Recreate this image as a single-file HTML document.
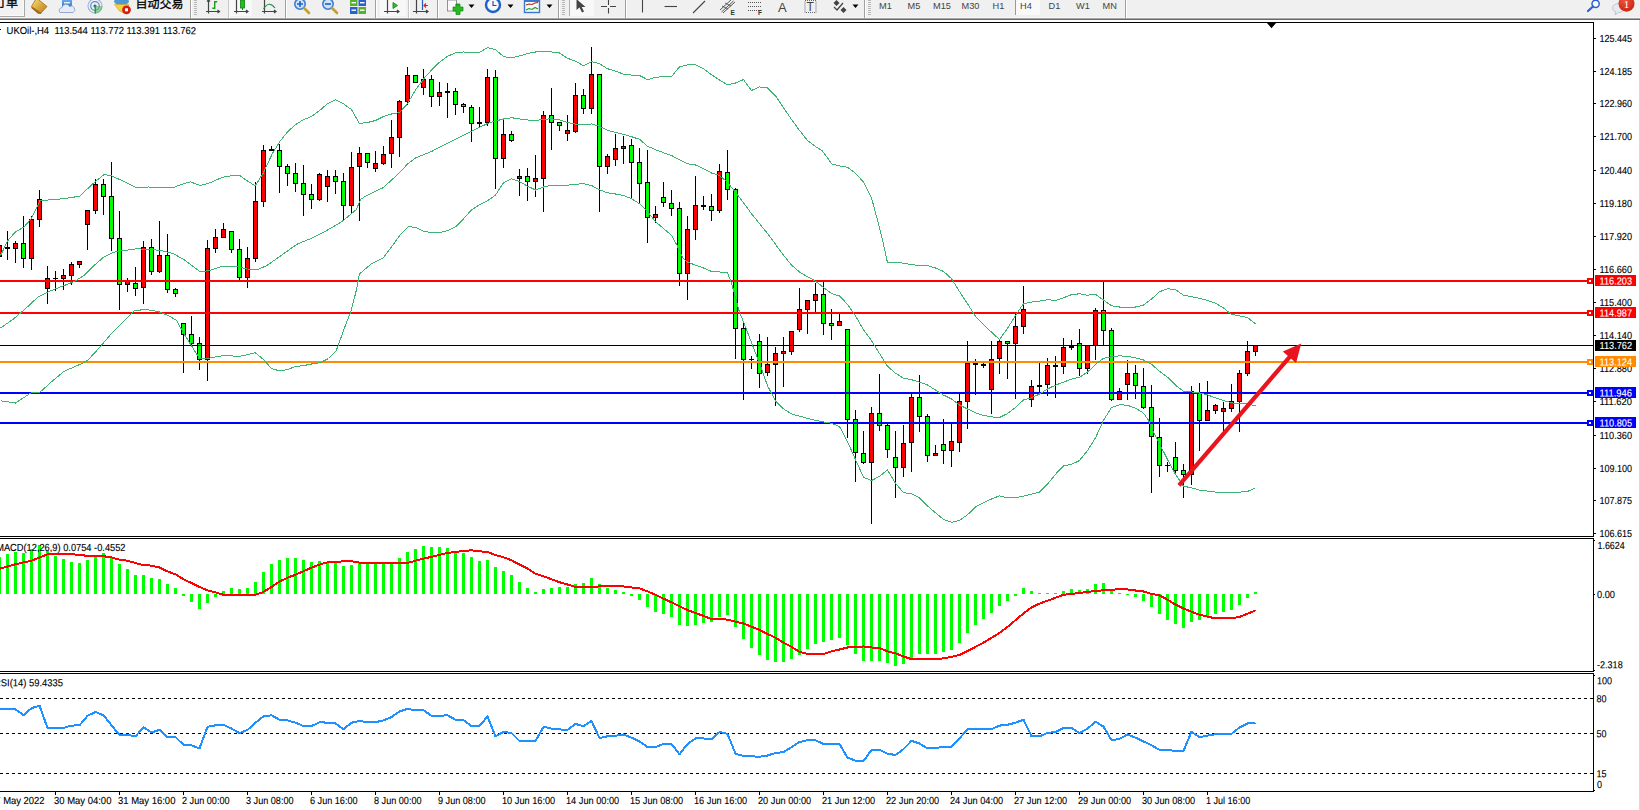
<!DOCTYPE html>
<html lang="zh">
<head>
<meta charset="utf-8">
<title>UKOil-,H4</title>
<style>
html,body{margin:0;padding:0;background:#fff;}
body{width:1640px;height:810px;position:relative;overflow:hidden;font-family:"Liberation Sans", "Noto Sans CJK SC", sans-serif;}
#tb{position:absolute;left:0;top:0;width:1640px;height:20px;background:#f0f0f0;overflow:hidden;}
#tb .edge1{position:absolute;left:0;top:17px;width:100%;height:1px;background:#f7f7f7;}
#tb .edge2{position:absolute;left:0;top:18px;width:100%;height:1px;background:#a6a6a6;}
#tb .edge3{position:absolute;left:0;top:19px;width:100%;height:1px;background:#6a6a6a;}
#tb .sep{position:absolute;top:0;width:1px;height:18px;background:#a0a0a0;box-shadow:1px 0 0 #fff;}
#tb .grip{position:absolute;top:0;width:3px;height:15px;background:repeating-linear-gradient(to bottom,#b8b8b8 0,#b8b8b8 1px,transparent 1px,transparent 2px);}
#tb .tf{position:absolute;top:0px;font-size:9.2px;line-height:13px;color:#444;white-space:nowrap;}
#tb .cjk{position:absolute;font-size:12px;line-height:12px;color:#000;white-space:nowrap;}
#rightedge{position:absolute;left:1639px;top:20px;width:1px;height:790px;background:#d9d9d9;}
</style>
</head>
<body>
<svg id="chart" width="1640" height="810" viewBox="0 0 1640 810" style="position:absolute;left:0;top:0" font-family='"Liberation Sans", "Noto Sans CJK SC", sans-serif' font-size="10.2px" stroke="none">
<g shape-rendering="crispEdges" fill="#000">
<rect x="0" y="22" width="1594" height="1"/>
<rect x="1593" y="22" width="1" height="515"/>
<rect x="0" y="536" width="1594" height="1"/>
<rect x="0" y="538" width="1594" height="1"/>
<rect x="1593" y="538" width="1" height="134"/>
<rect x="0" y="671" width="1594" height="1"/>
<rect x="0" y="673" width="1594" height="1"/>
<rect x="1593" y="673" width="1" height="119"/>
<rect x="0" y="791" width="1594" height="1"/>
<rect x="1594" y="38" width="2" height="1"/>
<rect x="1594" y="71" width="2" height="1"/>
<rect x="1594" y="103" width="2" height="1"/>
<rect x="1594" y="136" width="2" height="1"/>
<rect x="1594" y="170" width="2" height="1"/>
<rect x="1594" y="203" width="2" height="1"/>
<rect x="1594" y="236" width="2" height="1"/>
<rect x="1594" y="269" width="2" height="1"/>
<rect x="1594" y="302" width="2" height="1"/>
<rect x="1594" y="335" width="2" height="1"/>
<rect x="1594" y="368" width="2" height="1"/>
<rect x="1594" y="401" width="2" height="1"/>
<rect x="1594" y="435" width="2" height="1"/>
<rect x="1594" y="468" width="2" height="1"/>
<rect x="1594" y="500" width="2" height="1"/>
<rect x="1594" y="533" width="2" height="1"/>
<rect x="1594" y="540" width="1" height="1"/>
<rect x="1594" y="594" width="1" height="1"/>
<rect x="1594" y="670" width="1" height="1"/>
<rect x="1594" y="675" width="1" height="1"/>
<rect x="1594" y="790" width="1" height="1"/>
<rect x="55" y="792" width="1" height="3"/>
<rect x="119" y="792" width="1" height="3"/>
<rect x="183" y="792" width="1" height="3"/>
<rect x="247" y="792" width="1" height="3"/>
<rect x="311" y="792" width="1" height="3"/>
<rect x="375" y="792" width="1" height="3"/>
<rect x="439" y="792" width="1" height="3"/>
<rect x="503" y="792" width="1" height="3"/>
<rect x="567" y="792" width="1" height="3"/>
<rect x="631" y="792" width="1" height="3"/>
<rect x="695" y="792" width="1" height="3"/>
<rect x="759" y="792" width="1" height="3"/>
<rect x="823" y="792" width="1" height="3"/>
<rect x="887" y="792" width="1" height="3"/>
<rect x="951" y="792" width="1" height="3"/>
<rect x="1015" y="792" width="1" height="3"/>
<rect x="1079" y="792" width="1" height="3"/>
<rect x="1143" y="792" width="1" height="3"/>
<rect x="1207" y="792" width="1" height="3"/>
</g>
<rect x="0" y="29" width="1" height="1" fill="#000" shape-rendering="crispEdges"/>
<path d="M1266.5 22.5 L1276.5 22.5 L1271.5 28.3 Z" fill="#000"/>
<defs><clipPath id="cm"><rect x="0" y="23" width="1593" height="513"/></clipPath><clipPath id="c2"><rect x="0" y="539" width="1593" height="132"/></clipPath><clipPath id="c3"><rect x="0" y="674" width="1593" height="117"/></clipPath></defs>
<g clip-path="url(#cm)" shape-rendering="crispEdges">
<rect x="-1" y="240" width="1" height="22" fill="#000"/>
<rect x="-3" y="245" width="5" height="12" fill="#000"/>
<rect x="-2" y="246" width="3" height="10" fill="#ff0000"/>
<rect x="7" y="231" width="1" height="29" fill="#000"/>
<rect x="5" y="247" width="5" height="2" fill="#000"/>
<rect x="15" y="241" width="1" height="22" fill="#000"/>
<rect x="13" y="243" width="5" height="6" fill="#000"/>
<rect x="14" y="244" width="3" height="4" fill="#ff0000"/>
<rect x="23" y="216" width="1" height="52" fill="#000"/>
<rect x="21" y="243" width="5" height="16" fill="#000"/>
<rect x="22" y="244" width="3" height="14" fill="#00ff00"/>
<rect x="31" y="216" width="1" height="54" fill="#000"/>
<rect x="29" y="219" width="5" height="40" fill="#000"/>
<rect x="30" y="220" width="3" height="38" fill="#ff0000"/>
<rect x="39" y="190" width="1" height="37" fill="#000"/>
<rect x="37" y="199" width="5" height="21" fill="#000"/>
<rect x="38" y="200" width="3" height="19" fill="#ff0000"/>
<rect x="47" y="266" width="1" height="38" fill="#000"/>
<rect x="45" y="278" width="5" height="11" fill="#000"/>
<rect x="46" y="279" width="3" height="9" fill="#ff0000"/>
<rect x="55" y="271" width="1" height="20" fill="#000"/>
<rect x="53" y="278" width="5" height="1" fill="#000"/>
<rect x="63" y="269" width="1" height="21" fill="#000"/>
<rect x="61" y="275" width="5" height="4" fill="#000"/>
<rect x="62" y="276" width="3" height="2" fill="#ff0000"/>
<rect x="71" y="262" width="1" height="23" fill="#000"/>
<rect x="69" y="264" width="5" height="12" fill="#000"/>
<rect x="70" y="265" width="3" height="10" fill="#ff0000"/>
<rect x="79" y="261" width="1" height="7" fill="#000"/>
<rect x="77" y="261" width="5" height="4" fill="#000"/>
<rect x="78" y="262" width="3" height="2" fill="#ff0000"/>
<rect x="87" y="210" width="1" height="40" fill="#000"/>
<rect x="85" y="210" width="5" height="15" fill="#000"/>
<rect x="86" y="211" width="3" height="13" fill="#ff0000"/>
<rect x="95" y="179" width="1" height="35" fill="#000"/>
<rect x="93" y="184" width="5" height="27" fill="#000"/>
<rect x="94" y="185" width="3" height="25" fill="#ff0000"/>
<rect x="103" y="179" width="1" height="36" fill="#000"/>
<rect x="101" y="184" width="5" height="13" fill="#000"/>
<rect x="102" y="185" width="3" height="11" fill="#00ff00"/>
<rect x="111" y="162" width="1" height="89" fill="#000"/>
<rect x="109" y="196" width="5" height="43" fill="#000"/>
<rect x="110" y="197" width="3" height="41" fill="#00ff00"/>
<rect x="119" y="211" width="1" height="99" fill="#000"/>
<rect x="117" y="238" width="5" height="47" fill="#000"/>
<rect x="118" y="239" width="3" height="45" fill="#00ff00"/>
<rect x="127" y="278" width="1" height="14" fill="#000"/>
<rect x="125" y="281" width="5" height="4" fill="#000"/>
<rect x="126" y="282" width="3" height="2" fill="#ff0000"/>
<rect x="135" y="267" width="1" height="29" fill="#000"/>
<rect x="133" y="283" width="5" height="6" fill="#000"/>
<rect x="134" y="284" width="3" height="4" fill="#00ff00"/>
<rect x="143" y="241" width="1" height="63" fill="#000"/>
<rect x="141" y="247" width="5" height="41" fill="#000"/>
<rect x="142" y="248" width="3" height="39" fill="#ff0000"/>
<rect x="151" y="239" width="1" height="36" fill="#000"/>
<rect x="149" y="247" width="5" height="25" fill="#000"/>
<rect x="150" y="248" width="3" height="23" fill="#00ff00"/>
<rect x="159" y="221" width="1" height="52" fill="#000"/>
<rect x="157" y="255" width="5" height="17" fill="#000"/>
<rect x="158" y="256" width="3" height="15" fill="#ff0000"/>
<rect x="167" y="234" width="1" height="59" fill="#000"/>
<rect x="165" y="255" width="5" height="35" fill="#000"/>
<rect x="166" y="256" width="3" height="33" fill="#00ff00"/>
<rect x="175" y="288" width="1" height="9" fill="#000"/>
<rect x="173" y="289" width="5" height="5" fill="#000"/>
<rect x="174" y="290" width="3" height="3" fill="#00ff00"/>
<rect x="183" y="323" width="1" height="50" fill="#000"/>
<rect x="181" y="323" width="5" height="12" fill="#000"/>
<rect x="182" y="324" width="3" height="10" fill="#00ff00"/>
<rect x="191" y="316" width="1" height="31" fill="#000"/>
<rect x="189" y="334" width="5" height="10" fill="#000"/>
<rect x="190" y="335" width="3" height="8" fill="#00ff00"/>
<rect x="199" y="337" width="1" height="33" fill="#000"/>
<rect x="197" y="343" width="5" height="17" fill="#000"/>
<rect x="198" y="344" width="3" height="15" fill="#00ff00"/>
<rect x="207" y="240" width="1" height="141" fill="#000"/>
<rect x="205" y="248" width="5" height="112" fill="#000"/>
<rect x="206" y="249" width="3" height="110" fill="#ff0000"/>
<rect x="215" y="229" width="1" height="24" fill="#000"/>
<rect x="213" y="237" width="5" height="12" fill="#000"/>
<rect x="214" y="238" width="3" height="10" fill="#ff0000"/>
<rect x="223" y="223" width="1" height="15" fill="#000"/>
<rect x="221" y="229" width="5" height="9" fill="#000"/>
<rect x="222" y="230" width="3" height="7" fill="#ff0000"/>
<rect x="231" y="231" width="1" height="22" fill="#000"/>
<rect x="229" y="231" width="5" height="19" fill="#000"/>
<rect x="230" y="232" width="3" height="17" fill="#00ff00"/>
<rect x="239" y="239" width="1" height="42" fill="#000"/>
<rect x="237" y="249" width="5" height="29" fill="#000"/>
<rect x="238" y="250" width="3" height="27" fill="#00ff00"/>
<rect x="247" y="247" width="1" height="41" fill="#000"/>
<rect x="245" y="258" width="5" height="20" fill="#000"/>
<rect x="246" y="259" width="3" height="18" fill="#ff0000"/>
<rect x="255" y="182" width="1" height="80" fill="#000"/>
<rect x="253" y="201" width="5" height="58" fill="#000"/>
<rect x="254" y="202" width="3" height="56" fill="#ff0000"/>
<rect x="263" y="145" width="1" height="62" fill="#000"/>
<rect x="261" y="150" width="5" height="52" fill="#000"/>
<rect x="262" y="151" width="3" height="50" fill="#ff0000"/>
<rect x="271" y="146" width="1" height="5" fill="#000"/>
<rect x="269" y="149" width="5" height="2" fill="#000"/>
<rect x="279" y="144" width="1" height="49" fill="#000"/>
<rect x="277" y="150" width="5" height="17" fill="#000"/>
<rect x="278" y="151" width="3" height="15" fill="#00ff00"/>
<rect x="287" y="164" width="1" height="22" fill="#000"/>
<rect x="285" y="166" width="5" height="8" fill="#000"/>
<rect x="286" y="167" width="3" height="6" fill="#00ff00"/>
<rect x="295" y="163" width="1" height="29" fill="#000"/>
<rect x="293" y="173" width="5" height="11" fill="#000"/>
<rect x="294" y="174" width="3" height="9" fill="#00ff00"/>
<rect x="303" y="165" width="1" height="51" fill="#000"/>
<rect x="301" y="183" width="5" height="12" fill="#000"/>
<rect x="302" y="184" width="3" height="10" fill="#00ff00"/>
<rect x="311" y="184" width="1" height="25" fill="#000"/>
<rect x="309" y="194" width="5" height="6" fill="#000"/>
<rect x="310" y="195" width="3" height="4" fill="#00ff00"/>
<rect x="319" y="173" width="1" height="28" fill="#000"/>
<rect x="317" y="174" width="5" height="26" fill="#000"/>
<rect x="318" y="175" width="3" height="24" fill="#ff0000"/>
<rect x="327" y="170" width="1" height="32" fill="#000"/>
<rect x="325" y="176" width="5" height="11" fill="#000"/>
<rect x="326" y="177" width="3" height="9" fill="#ff0000"/>
<rect x="335" y="170" width="1" height="24" fill="#000"/>
<rect x="333" y="176" width="5" height="6" fill="#000"/>
<rect x="334" y="177" width="3" height="4" fill="#00ff00"/>
<rect x="343" y="173" width="1" height="47" fill="#000"/>
<rect x="341" y="181" width="5" height="25" fill="#000"/>
<rect x="342" y="182" width="3" height="23" fill="#00ff00"/>
<rect x="351" y="152" width="1" height="61" fill="#000"/>
<rect x="349" y="167" width="5" height="39" fill="#000"/>
<rect x="350" y="168" width="3" height="37" fill="#ff0000"/>
<rect x="359" y="147" width="1" height="74" fill="#000"/>
<rect x="357" y="153" width="5" height="14" fill="#000"/>
<rect x="358" y="154" width="3" height="12" fill="#ff0000"/>
<rect x="367" y="153" width="1" height="15" fill="#000"/>
<rect x="365" y="153" width="5" height="10" fill="#000"/>
<rect x="366" y="154" width="3" height="8" fill="#00ff00"/>
<rect x="375" y="151" width="1" height="21" fill="#000"/>
<rect x="373" y="163" width="5" height="6" fill="#000"/>
<rect x="374" y="164" width="3" height="4" fill="#ff0000"/>
<rect x="383" y="146" width="1" height="19" fill="#000"/>
<rect x="381" y="154" width="5" height="10" fill="#000"/>
<rect x="382" y="155" width="3" height="8" fill="#ff0000"/>
<rect x="391" y="120" width="1" height="48" fill="#000"/>
<rect x="389" y="137" width="5" height="17" fill="#000"/>
<rect x="390" y="138" width="3" height="15" fill="#ff0000"/>
<rect x="399" y="100" width="1" height="57" fill="#000"/>
<rect x="397" y="101" width="5" height="37" fill="#000"/>
<rect x="398" y="102" width="3" height="35" fill="#ff0000"/>
<rect x="407" y="67" width="1" height="38" fill="#000"/>
<rect x="405" y="75" width="5" height="27" fill="#000"/>
<rect x="406" y="76" width="3" height="25" fill="#ff0000"/>
<rect x="415" y="75" width="1" height="8" fill="#000"/>
<rect x="413" y="75" width="5" height="8" fill="#000"/>
<rect x="414" y="76" width="3" height="6" fill="#00ff00"/>
<rect x="423" y="69" width="1" height="26" fill="#000"/>
<rect x="421" y="79" width="5" height="9" fill="#000"/>
<rect x="422" y="80" width="3" height="7" fill="#ff0000"/>
<rect x="431" y="75" width="1" height="32" fill="#000"/>
<rect x="429" y="79" width="5" height="18" fill="#000"/>
<rect x="430" y="80" width="3" height="16" fill="#00ff00"/>
<rect x="439" y="82" width="1" height="24" fill="#000"/>
<rect x="437" y="92" width="5" height="5" fill="#000"/>
<rect x="438" y="93" width="3" height="3" fill="#ff0000"/>
<rect x="447" y="83" width="1" height="35" fill="#000"/>
<rect x="445" y="91" width="5" height="2" fill="#000"/>
<rect x="455" y="88" width="1" height="27" fill="#000"/>
<rect x="453" y="91" width="5" height="14" fill="#000"/>
<rect x="454" y="92" width="3" height="12" fill="#00ff00"/>
<rect x="463" y="103" width="1" height="10" fill="#000"/>
<rect x="461" y="104" width="5" height="3" fill="#000"/>
<rect x="462" y="105" width="3" height="1" fill="#00ff00"/>
<rect x="471" y="105" width="1" height="37" fill="#000"/>
<rect x="469" y="107" width="5" height="17" fill="#000"/>
<rect x="470" y="108" width="3" height="15" fill="#00ff00"/>
<rect x="479" y="107" width="1" height="21" fill="#000"/>
<rect x="477" y="122" width="5" height="2" fill="#000"/>
<rect x="487" y="69" width="1" height="57" fill="#000"/>
<rect x="485" y="77" width="5" height="46" fill="#000"/>
<rect x="486" y="78" width="3" height="44" fill="#ff0000"/>
<rect x="495" y="70" width="1" height="119" fill="#000"/>
<rect x="493" y="77" width="5" height="82" fill="#000"/>
<rect x="494" y="78" width="3" height="80" fill="#00ff00"/>
<rect x="503" y="120" width="1" height="48" fill="#000"/>
<rect x="501" y="134" width="5" height="25" fill="#000"/>
<rect x="502" y="135" width="3" height="23" fill="#ff0000"/>
<rect x="511" y="131" width="1" height="11" fill="#000"/>
<rect x="509" y="134" width="5" height="7" fill="#000"/>
<rect x="510" y="135" width="3" height="5" fill="#00ff00"/>
<rect x="519" y="169" width="1" height="27" fill="#000"/>
<rect x="517" y="176" width="5" height="3" fill="#000"/>
<rect x="518" y="177" width="3" height="1" fill="#ff0000"/>
<rect x="527" y="168" width="1" height="33" fill="#000"/>
<rect x="525" y="176" width="5" height="6" fill="#000"/>
<rect x="526" y="177" width="3" height="4" fill="#00ff00"/>
<rect x="535" y="155" width="1" height="42" fill="#000"/>
<rect x="533" y="178" width="5" height="4" fill="#000"/>
<rect x="534" y="179" width="3" height="2" fill="#ff0000"/>
<rect x="543" y="111" width="1" height="101" fill="#000"/>
<rect x="541" y="115" width="5" height="64" fill="#000"/>
<rect x="542" y="116" width="3" height="62" fill="#ff0000"/>
<rect x="551" y="88" width="1" height="62" fill="#000"/>
<rect x="549" y="115" width="5" height="8" fill="#000"/>
<rect x="550" y="116" width="3" height="6" fill="#00ff00"/>
<rect x="559" y="122" width="1" height="9" fill="#000"/>
<rect x="557" y="122" width="5" height="4" fill="#000"/>
<rect x="558" y="123" width="3" height="2" fill="#00ff00"/>
<rect x="567" y="115" width="1" height="26" fill="#000"/>
<rect x="565" y="130" width="5" height="4" fill="#000"/>
<rect x="566" y="131" width="3" height="2" fill="#ff0000"/>
<rect x="575" y="83" width="1" height="50" fill="#000"/>
<rect x="573" y="95" width="5" height="37" fill="#000"/>
<rect x="574" y="96" width="3" height="35" fill="#ff0000"/>
<rect x="583" y="89" width="1" height="25" fill="#000"/>
<rect x="581" y="95" width="5" height="14" fill="#000"/>
<rect x="582" y="96" width="3" height="12" fill="#00ff00"/>
<rect x="591" y="47" width="1" height="67" fill="#000"/>
<rect x="589" y="74" width="5" height="35" fill="#000"/>
<rect x="590" y="75" width="3" height="33" fill="#ff0000"/>
<rect x="599" y="74" width="1" height="138" fill="#000"/>
<rect x="597" y="74" width="5" height="93" fill="#000"/>
<rect x="598" y="75" width="3" height="91" fill="#00ff00"/>
<rect x="607" y="154" width="1" height="20" fill="#000"/>
<rect x="605" y="156" width="5" height="11" fill="#000"/>
<rect x="606" y="157" width="3" height="9" fill="#ff0000"/>
<rect x="615" y="134" width="1" height="32" fill="#000"/>
<rect x="613" y="148" width="5" height="12" fill="#000"/>
<rect x="614" y="149" width="3" height="10" fill="#ff0000"/>
<rect x="623" y="136" width="1" height="28" fill="#000"/>
<rect x="621" y="146" width="5" height="3" fill="#000"/>
<rect x="622" y="147" width="3" height="1" fill="#ff0000"/>
<rect x="631" y="139" width="1" height="60" fill="#000"/>
<rect x="629" y="145" width="5" height="18" fill="#000"/>
<rect x="630" y="146" width="3" height="16" fill="#00ff00"/>
<rect x="639" y="148" width="1" height="55" fill="#000"/>
<rect x="637" y="162" width="5" height="22" fill="#000"/>
<rect x="638" y="163" width="3" height="20" fill="#00ff00"/>
<rect x="647" y="150" width="1" height="93" fill="#000"/>
<rect x="645" y="182" width="5" height="36" fill="#000"/>
<rect x="646" y="183" width="3" height="34" fill="#00ff00"/>
<rect x="655" y="206" width="1" height="17" fill="#000"/>
<rect x="653" y="214" width="5" height="4" fill="#000"/>
<rect x="654" y="215" width="3" height="2" fill="#ff0000"/>
<rect x="663" y="182" width="1" height="25" fill="#000"/>
<rect x="661" y="197" width="5" height="6" fill="#000"/>
<rect x="662" y="198" width="3" height="4" fill="#00ff00"/>
<rect x="671" y="190" width="1" height="26" fill="#000"/>
<rect x="669" y="203" width="5" height="6" fill="#000"/>
<rect x="670" y="204" width="3" height="4" fill="#00ff00"/>
<rect x="679" y="202" width="1" height="84" fill="#000"/>
<rect x="677" y="208" width="5" height="66" fill="#000"/>
<rect x="678" y="209" width="3" height="64" fill="#00ff00"/>
<rect x="687" y="216" width="1" height="84" fill="#000"/>
<rect x="685" y="229" width="5" height="45" fill="#000"/>
<rect x="686" y="230" width="3" height="43" fill="#ff0000"/>
<rect x="695" y="176" width="1" height="64" fill="#000"/>
<rect x="693" y="205" width="5" height="25" fill="#000"/>
<rect x="694" y="206" width="3" height="23" fill="#ff0000"/>
<rect x="703" y="196" width="1" height="14" fill="#000"/>
<rect x="701" y="205" width="5" height="2" fill="#000"/>
<rect x="711" y="194" width="1" height="27" fill="#000"/>
<rect x="709" y="206" width="5" height="5" fill="#000"/>
<rect x="710" y="207" width="3" height="3" fill="#00ff00"/>
<rect x="719" y="164" width="1" height="49" fill="#000"/>
<rect x="717" y="171" width="5" height="40" fill="#000"/>
<rect x="718" y="172" width="3" height="38" fill="#ff0000"/>
<rect x="727" y="150" width="1" height="50" fill="#000"/>
<rect x="725" y="172" width="5" height="18" fill="#000"/>
<rect x="726" y="173" width="3" height="16" fill="#00ff00"/>
<rect x="735" y="188" width="1" height="171" fill="#000"/>
<rect x="733" y="189" width="5" height="140" fill="#000"/>
<rect x="734" y="190" width="3" height="138" fill="#00ff00"/>
<rect x="743" y="322" width="1" height="78" fill="#000"/>
<rect x="741" y="328" width="5" height="32" fill="#000"/>
<rect x="742" y="329" width="3" height="30" fill="#00ff00"/>
<rect x="751" y="356" width="1" height="13" fill="#000"/>
<rect x="749" y="359" width="5" height="1" fill="#000"/>
<rect x="759" y="334" width="1" height="54" fill="#000"/>
<rect x="757" y="341" width="5" height="33" fill="#000"/>
<rect x="758" y="342" width="3" height="31" fill="#00ff00"/>
<rect x="767" y="337" width="1" height="39" fill="#000"/>
<rect x="765" y="364" width="5" height="9" fill="#000"/>
<rect x="766" y="365" width="3" height="7" fill="#ff0000"/>
<rect x="775" y="347" width="1" height="59" fill="#000"/>
<rect x="773" y="353" width="5" height="12" fill="#000"/>
<rect x="774" y="354" width="3" height="10" fill="#ff0000"/>
<rect x="783" y="337" width="1" height="50" fill="#000"/>
<rect x="781" y="351" width="5" height="3" fill="#000"/>
<rect x="782" y="352" width="3" height="1" fill="#ff0000"/>
<rect x="791" y="331" width="1" height="24" fill="#000"/>
<rect x="789" y="331" width="5" height="21" fill="#000"/>
<rect x="790" y="332" width="3" height="19" fill="#ff0000"/>
<rect x="799" y="288" width="1" height="44" fill="#000"/>
<rect x="797" y="309" width="5" height="21" fill="#000"/>
<rect x="798" y="310" width="3" height="19" fill="#ff0000"/>
<rect x="807" y="300" width="1" height="34" fill="#000"/>
<rect x="805" y="300" width="5" height="10" fill="#000"/>
<rect x="806" y="301" width="3" height="8" fill="#ff0000"/>
<rect x="815" y="283" width="1" height="29" fill="#000"/>
<rect x="813" y="294" width="5" height="7" fill="#000"/>
<rect x="814" y="295" width="3" height="5" fill="#ff0000"/>
<rect x="823" y="282" width="1" height="53" fill="#000"/>
<rect x="821" y="294" width="5" height="30" fill="#000"/>
<rect x="822" y="295" width="3" height="28" fill="#00ff00"/>
<rect x="831" y="309" width="1" height="31" fill="#000"/>
<rect x="829" y="323" width="5" height="3" fill="#000"/>
<rect x="830" y="324" width="3" height="1" fill="#00ff00"/>
<rect x="839" y="314" width="1" height="12" fill="#000"/>
<rect x="837" y="321" width="5" height="5" fill="#000"/>
<rect x="838" y="322" width="3" height="3" fill="#ff0000"/>
<rect x="847" y="329" width="1" height="109" fill="#000"/>
<rect x="845" y="329" width="5" height="91" fill="#000"/>
<rect x="846" y="330" width="3" height="89" fill="#00ff00"/>
<rect x="855" y="410" width="1" height="72" fill="#000"/>
<rect x="853" y="419" width="5" height="34" fill="#000"/>
<rect x="854" y="420" width="3" height="32" fill="#00ff00"/>
<rect x="863" y="431" width="1" height="33" fill="#000"/>
<rect x="861" y="453" width="5" height="10" fill="#000"/>
<rect x="862" y="454" width="3" height="8" fill="#00ff00"/>
<rect x="871" y="407" width="1" height="117" fill="#000"/>
<rect x="869" y="413" width="5" height="50" fill="#000"/>
<rect x="870" y="414" width="3" height="48" fill="#ff0000"/>
<rect x="879" y="374" width="1" height="57" fill="#000"/>
<rect x="877" y="413" width="5" height="13" fill="#000"/>
<rect x="878" y="414" width="3" height="11" fill="#00ff00"/>
<rect x="887" y="424" width="1" height="34" fill="#000"/>
<rect x="885" y="425" width="5" height="25" fill="#000"/>
<rect x="886" y="426" width="3" height="23" fill="#00ff00"/>
<rect x="895" y="431" width="1" height="67" fill="#000"/>
<rect x="893" y="457" width="5" height="11" fill="#000"/>
<rect x="894" y="458" width="3" height="9" fill="#00ff00"/>
<rect x="903" y="425" width="1" height="52" fill="#000"/>
<rect x="901" y="443" width="5" height="25" fill="#000"/>
<rect x="902" y="444" width="3" height="23" fill="#ff0000"/>
<rect x="911" y="394" width="1" height="78" fill="#000"/>
<rect x="909" y="397" width="5" height="46" fill="#000"/>
<rect x="910" y="398" width="3" height="44" fill="#ff0000"/>
<rect x="919" y="375" width="1" height="57" fill="#000"/>
<rect x="917" y="397" width="5" height="20" fill="#000"/>
<rect x="918" y="398" width="3" height="18" fill="#00ff00"/>
<rect x="927" y="414" width="1" height="48" fill="#000"/>
<rect x="925" y="416" width="5" height="40" fill="#000"/>
<rect x="926" y="417" width="3" height="38" fill="#00ff00"/>
<rect x="935" y="445" width="1" height="11" fill="#000"/>
<rect x="933" y="453" width="5" height="3" fill="#000"/>
<rect x="934" y="454" width="3" height="1" fill="#ff0000"/>
<rect x="943" y="419" width="1" height="45" fill="#000"/>
<rect x="941" y="444" width="5" height="7" fill="#000"/>
<rect x="942" y="445" width="3" height="5" fill="#00ff00"/>
<rect x="951" y="424" width="1" height="43" fill="#000"/>
<rect x="949" y="441" width="5" height="10" fill="#000"/>
<rect x="950" y="442" width="3" height="8" fill="#ff0000"/>
<rect x="959" y="394" width="1" height="58" fill="#000"/>
<rect x="957" y="401" width="5" height="42" fill="#000"/>
<rect x="958" y="402" width="3" height="40" fill="#ff0000"/>
<rect x="967" y="341" width="1" height="88" fill="#000"/>
<rect x="965" y="363" width="5" height="39" fill="#000"/>
<rect x="966" y="364" width="3" height="37" fill="#ff0000"/>
<rect x="975" y="359" width="1" height="36" fill="#000"/>
<rect x="973" y="363" width="5" height="2" fill="#000"/>
<rect x="983" y="363" width="1" height="5" fill="#000"/>
<rect x="981" y="364" width="5" height="2" fill="#000"/>
<rect x="991" y="341" width="1" height="73" fill="#000"/>
<rect x="989" y="359" width="5" height="31" fill="#000"/>
<rect x="990" y="360" width="3" height="29" fill="#ff0000"/>
<rect x="999" y="339" width="1" height="35" fill="#000"/>
<rect x="997" y="341" width="5" height="18" fill="#000"/>
<rect x="998" y="342" width="3" height="16" fill="#ff0000"/>
<rect x="1007" y="341" width="1" height="38" fill="#000"/>
<rect x="1005" y="341" width="5" height="3" fill="#000"/>
<rect x="1006" y="342" width="3" height="1" fill="#00ff00"/>
<rect x="1015" y="314" width="1" height="85" fill="#000"/>
<rect x="1013" y="326" width="5" height="18" fill="#000"/>
<rect x="1014" y="327" width="3" height="16" fill="#ff0000"/>
<rect x="1023" y="286" width="1" height="48" fill="#000"/>
<rect x="1021" y="309" width="5" height="18" fill="#000"/>
<rect x="1022" y="310" width="3" height="16" fill="#ff0000"/>
<rect x="1031" y="380" width="1" height="27" fill="#000"/>
<rect x="1029" y="386" width="5" height="14" fill="#000"/>
<rect x="1030" y="387" width="3" height="12" fill="#ff0000"/>
<rect x="1039" y="363" width="1" height="29" fill="#000"/>
<rect x="1037" y="385" width="5" height="2" fill="#000"/>
<rect x="1047" y="358" width="1" height="38" fill="#000"/>
<rect x="1045" y="365" width="5" height="20" fill="#000"/>
<rect x="1046" y="366" width="3" height="18" fill="#ff0000"/>
<rect x="1055" y="356" width="1" height="42" fill="#000"/>
<rect x="1053" y="365" width="5" height="2" fill="#000"/>
<rect x="1063" y="338" width="1" height="36" fill="#000"/>
<rect x="1061" y="347" width="5" height="20" fill="#000"/>
<rect x="1062" y="348" width="3" height="18" fill="#ff0000"/>
<rect x="1071" y="340" width="1" height="10" fill="#000"/>
<rect x="1069" y="346" width="5" height="2" fill="#000"/>
<rect x="1079" y="329" width="1" height="47" fill="#000"/>
<rect x="1077" y="343" width="5" height="26" fill="#000"/>
<rect x="1078" y="344" width="3" height="24" fill="#00ff00"/>
<rect x="1087" y="345" width="1" height="29" fill="#000"/>
<rect x="1085" y="345" width="5" height="24" fill="#000"/>
<rect x="1086" y="346" width="3" height="22" fill="#ff0000"/>
<rect x="1095" y="308" width="1" height="52" fill="#000"/>
<rect x="1093" y="310" width="5" height="36" fill="#000"/>
<rect x="1094" y="311" width="3" height="34" fill="#ff0000"/>
<rect x="1103" y="282" width="1" height="63" fill="#000"/>
<rect x="1101" y="310" width="5" height="21" fill="#000"/>
<rect x="1102" y="311" width="3" height="19" fill="#00ff00"/>
<rect x="1111" y="328" width="1" height="73" fill="#000"/>
<rect x="1109" y="330" width="5" height="70" fill="#000"/>
<rect x="1110" y="331" width="3" height="68" fill="#00ff00"/>
<rect x="1119" y="388" width="1" height="12" fill="#000"/>
<rect x="1117" y="391" width="5" height="9" fill="#000"/>
<rect x="1118" y="392" width="3" height="7" fill="#ff0000"/>
<rect x="1127" y="360" width="1" height="40" fill="#000"/>
<rect x="1125" y="373" width="5" height="12" fill="#000"/>
<rect x="1126" y="374" width="3" height="10" fill="#ff0000"/>
<rect x="1135" y="365" width="1" height="34" fill="#000"/>
<rect x="1133" y="373" width="5" height="13" fill="#000"/>
<rect x="1134" y="374" width="3" height="11" fill="#00ff00"/>
<rect x="1143" y="368" width="1" height="41" fill="#000"/>
<rect x="1141" y="386" width="5" height="22" fill="#000"/>
<rect x="1142" y="387" width="3" height="20" fill="#00ff00"/>
<rect x="1151" y="385" width="1" height="108" fill="#000"/>
<rect x="1149" y="407" width="5" height="30" fill="#000"/>
<rect x="1150" y="408" width="3" height="28" fill="#00ff00"/>
<rect x="1159" y="418" width="1" height="59" fill="#000"/>
<rect x="1157" y="437" width="5" height="29" fill="#000"/>
<rect x="1158" y="438" width="3" height="27" fill="#00ff00"/>
<rect x="1167" y="462" width="1" height="10" fill="#000"/>
<rect x="1165" y="465" width="5" height="1" fill="#000"/>
<rect x="1175" y="442" width="1" height="32" fill="#000"/>
<rect x="1173" y="457" width="5" height="14" fill="#000"/>
<rect x="1174" y="458" width="3" height="12" fill="#00ff00"/>
<rect x="1183" y="464" width="1" height="34" fill="#000"/>
<rect x="1181" y="470" width="5" height="5" fill="#000"/>
<rect x="1182" y="471" width="3" height="3" fill="#00ff00"/>
<rect x="1191" y="386" width="1" height="99" fill="#000"/>
<rect x="1189" y="391" width="5" height="84" fill="#000"/>
<rect x="1190" y="392" width="3" height="82" fill="#ff0000"/>
<rect x="1199" y="383" width="1" height="68" fill="#000"/>
<rect x="1197" y="392" width="5" height="29" fill="#000"/>
<rect x="1198" y="393" width="3" height="27" fill="#00ff00"/>
<rect x="1207" y="381" width="1" height="40" fill="#000"/>
<rect x="1205" y="410" width="5" height="11" fill="#000"/>
<rect x="1206" y="411" width="3" height="9" fill="#ff0000"/>
<rect x="1215" y="404" width="1" height="10" fill="#000"/>
<rect x="1213" y="405" width="5" height="6" fill="#000"/>
<rect x="1214" y="406" width="3" height="4" fill="#ff0000"/>
<rect x="1223" y="402" width="1" height="30" fill="#000"/>
<rect x="1221" y="408" width="5" height="4" fill="#000"/>
<rect x="1222" y="409" width="3" height="2" fill="#ff0000"/>
<rect x="1231" y="384" width="1" height="28" fill="#000"/>
<rect x="1229" y="401" width="5" height="8" fill="#000"/>
<rect x="1230" y="402" width="3" height="6" fill="#ff0000"/>
<rect x="1239" y="370" width="1" height="62" fill="#000"/>
<rect x="1237" y="373" width="5" height="29" fill="#000"/>
<rect x="1238" y="374" width="3" height="27" fill="#ff0000"/>
<rect x="1247" y="341" width="1" height="35" fill="#000"/>
<rect x="1245" y="351" width="5" height="23" fill="#000"/>
<rect x="1246" y="352" width="3" height="21" fill="#ff0000"/>
<rect x="1255" y="345" width="1" height="11" fill="#000"/>
<rect x="1253" y="345" width="5" height="7" fill="#000"/>
<rect x="1254" y="346" width="3" height="5" fill="#ff0000"/>
</g>
<g shape-rendering="crispEdges">
<rect x="0" y="345" width="1593" height="1" fill="#000"/>
<rect x="0" y="280" width="1593" height="2" fill="#ff0000"/>
<rect x="1587" y="278" width="6" height="6" fill="#ff0000"/>
<rect x="1589" y="280" width="2" height="2" fill="#fff"/>
<rect x="0" y="312" width="1593" height="2" fill="#ff0000"/>
<rect x="1587" y="310" width="6" height="6" fill="#ff0000"/>
<rect x="1589" y="312" width="2" height="2" fill="#fff"/>
<rect x="0" y="361" width="1593" height="2" fill="#ff8c00"/>
<rect x="1587" y="359" width="6" height="6" fill="#ff8c00"/>
<rect x="1589" y="361" width="2" height="2" fill="#fff"/>
<rect x="0" y="392" width="1593" height="2" fill="#0000ff"/>
<rect x="1587" y="390" width="6" height="6" fill="#0000ff"/>
<rect x="1589" y="392" width="2" height="2" fill="#fff"/>
<rect x="0" y="422" width="1593" height="2" fill="#0000ff"/>
<rect x="1587" y="420" width="6" height="6" fill="#0000ff"/>
<rect x="1589" y="422" width="2" height="2" fill="#fff"/>
</g>
<g clip-path="url(#cm)" shape-rendering="crispEdges">
<polyline points="0.5,255.5 7.9,240.5 15.3,232.0 24.0,227.0 31.4,218.4 40.0,200.6 49.9,199.9 64.7,198.6 79.5,196.2 95.5,181.4 104.2,174.5 111.5,175.9 124.0,181.4 136.3,187.5 148.5,187.0 161.0,187.5 173.3,187.5 183.2,183.8 190.5,181.9 200.5,185.5 210.4,182.6 222.7,177.2 231.4,175.7 240.0,175.7 248.4,181.7 255.3,185.7 263.4,172.8 272.1,154.1 280.0,141.2 287.9,131.4 295.8,124.5 303.7,119.5 311.6,116.5 319.5,110.6 327.4,103.7 335.5,99.8 343.4,103.7 351.5,109.6 359.4,123.5 367.5,122.5 375.5,120.5 383.5,116.5 391.5,114.0 399.5,112.6 407.5,103.7 415.5,89.9 423.5,79.0 431.5,70.1 439.5,62.2 447.5,56.3 455.5,52.9 463.5,52.0 471.5,52.7 479.5,52.4 487.5,47.7 495.5,49.7 503.5,56.5 511.5,57.9 519.5,55.9 527.5,53.6 535.5,52.0 543.5,51.8 551.5,51.9 559.5,53.0 567.5,58.3 575.5,61.2 583.5,65.8 591.5,61.6 599.5,63.8 607.5,68.7 615.5,71.1 623.5,74.1 631.5,75.1 639.5,75.5 647.5,79.6 655.5,77.4 663.5,76.6 671.5,76.6 679.5,66.8 687.5,64.8 695.5,64.8 703.5,68.7 711.5,74.7 719.5,80.0 727.5,84.9 735.5,83.0 743.5,79.6 751.5,90.5 759.5,86.9 767.5,87.9 775.5,95.8 783.5,107.7 791.5,119.5 799.5,130.4 807.5,140.5 815.5,146.5 822.0,150.5 831.9,163.9 839.5,165.9 847.5,167.3 855.5,173.2 863.5,182.1 871.5,197.9 876.3,215.7 879.5,227.5 884.2,247.3 887.5,262.7 895.5,262.7 903.5,263.1 911.5,264.7 919.5,265.5 927.5,265.7 935.5,268.0 943.5,271.4 951.5,278.7 959.5,291.5 967.5,303.8 975.5,316.3 983.5,324.8 991.5,332.1 999.5,339.6 1007.5,328.3 1015.5,315.5 1023.5,303.7 1031.5,302.1 1039.5,301.1 1047.5,299.7 1055.5,300.5 1063.5,297.8 1071.5,294.6 1079.5,293.8 1087.5,295.2 1095.5,294.2 1103.5,300.1 1111.5,305.7 1119.5,307.0 1127.5,307.0 1135.5,307.0 1143.5,305.1 1151.5,299.1 1159.5,291.8 1167.5,288.7 1175.5,289.7 1183.5,295.2 1191.5,296.8 1199.5,298.2 1207.5,300.5 1215.5,303.1 1223.5,308.0 1231.5,314.4 1239.5,315.9 1247.5,317.5 1255.5,323.8" fill="none" stroke="#3cb371" stroke-width="1"/>
<polyline points="0.5,328.0 12.8,319.5 25.2,309.0 37.5,297.4 49.9,291.2 62.2,286.3 74.5,281.4 84.5,275.2 94.3,265.3 104.2,256.7 114.1,252.2 124.0,250.5 136.3,248.8 148.6,249.3 161.0,250.5 173.3,253.7 183.2,259.1 193.1,266.5 200.5,272.0 210.4,270.3 222.7,266.1 235.1,266.1 247.4,269.0 257.3,269.8 267.2,265.3 279.5,256.7 296.8,244.3 311.6,238.2 326.4,230.7 341.2,222.1 356.1,209.8 361.0,199.0 366.9,195.5 374.8,191.6 383.5,187.5 391.5,180.0 399.5,172.8 407.5,164.0 415.5,158.0 423.5,154.7 431.5,151.5 439.5,147.2 447.5,143.2 455.5,139.3 463.5,135.3 471.5,131.4 479.5,127.4 487.5,123.5 495.5,121.0 503.5,119.0 511.5,117.7 519.5,118.9 527.5,120.0 535.5,120.5 543.5,119.3 551.5,118.8 559.5,119.8 567.5,122.5 575.5,124.1 583.5,125.0 591.5,123.9 599.5,126.4 607.5,130.4 615.5,132.4 623.5,134.3 631.5,136.7 639.5,139.3 647.5,146.2 655.5,149.7 663.5,152.7 671.5,155.5 679.5,159.7 687.5,163.7 695.5,165.0 703.5,168.6 711.5,173.0 719.5,175.5 727.5,182.4 735.5,192.3 743.5,202.8 751.5,213.7 759.5,223.6 767.5,233.5 775.5,244.3 783.5,255.2 791.5,265.1 799.5,272.0 807.5,276.7 815.5,281.1 823.5,287.5 831.5,293.5 839.5,296.0 847.5,304.3 855.5,315.9 863.5,329.8 871.5,340.6 879.5,353.5 887.5,366.3 895.5,373.2 903.5,378.2 911.5,379.7 919.5,382.1 927.5,385.0 935.5,390.0 943.5,395.1 951.5,398.9 959.5,405.0 967.5,409.0 975.5,412.7 983.5,415.4 991.5,416.9 999.5,417.5 1007.5,413.6 1015.5,407.5 1023.5,399.9 1031.5,397.9 1039.5,394.0 1047.5,389.0 1055.5,385.1 1063.5,382.1 1071.5,379.1 1079.5,377.2 1087.5,372.2 1095.5,364.3 1103.5,358.4 1111.5,356.8 1119.5,355.8 1127.5,356.4 1135.5,357.8 1143.5,360.0 1151.5,364.3 1159.5,371.2 1167.5,377.2 1175.5,385.1 1183.5,391.4 1191.5,392.0 1199.5,393.0 1207.5,394.9 1215.5,397.9 1223.5,400.5 1231.5,402.8 1239.5,403.8 1247.5,403.8 1255.5,405.8" fill="none" stroke="#3cb371" stroke-width="1"/>
<polyline points="0.5,400.7 15.3,403.1 32.1,392.2 40.0,392.2 51.9,381.4 63.7,371.5 79.5,364.6 87.4,360.6 99.3,347.8 111.1,334.0 123.0,322.1 134.8,310.3 146.7,309.7 158.5,311.6 167.4,315.2 176.3,320.1 183.5,333.0 191.5,345.8 199.5,358.6 207.5,358.6 217.8,356.3 227.7,355.3 237.5,356.7 247.5,354.7 255.3,352.7 263.5,359.6 271.5,368.5 279.5,370.9 287.5,369.5 295.5,366.5 303.5,365.6 311.5,364.0 320.5,362.6 328.5,358.5 336.3,350.5 346.2,323.3 351.1,311.0 356.1,291.2 359.5,274.0 370.9,264.1 383.2,257.9 391.5,246.8 400.5,234.5 408.4,226.5 416.3,227.5 424.2,231.5 432.1,232.5 440.0,232.5 447.9,230.5 455.8,226.5 463.7,218.6 471.6,209.8 479.5,204.8 487.4,200.9 495.5,195.0 503.5,182.7 511.5,178.7 519.5,181.7 527.5,186.1 535.5,190.0 543.5,187.0 551.5,185.3 559.5,185.2 567.5,185.2 575.5,184.3 583.5,183.7 591.5,185.5 599.5,189.8 607.5,192.8 615.5,194.0 623.5,195.5 631.5,198.7 639.5,203.8 647.5,211.7 655.5,221.6 663.5,228.5 671.5,235.4 677.0,245.3 679.5,251.2 683.0,258.2 687.5,262.1 695.5,265.1 703.5,268.0 711.5,271.4 719.5,272.0 727.5,273.0 730.5,280.5 733.1,288.8 735.5,297.5 739.0,310.5 743.5,321.9 751.5,342.6 759.5,363.3 767.5,385.7 775.5,401.0 783.5,408.9 791.5,413.9 799.5,416.2 807.5,418.3 815.5,420.3 823.5,421.9 831.5,423.3 839.5,426.5 847.5,441.7 855.5,459.5 863.5,477.3 871.5,480.6 879.5,476.3 887.5,470.0 895.5,483.2 903.5,492.7 911.5,493.7 919.5,498.0 927.5,505.9 935.5,512.8 943.5,519.4 951.5,522.3 959.5,520.4 967.5,514.8 975.5,506.9 983.5,502.6 991.5,499.0 999.5,495.8 1007.5,497.8 1015.5,497.7 1023.5,496.1 1031.5,494.1 1039.5,492.1 1047.5,484.2 1055.5,474.3 1063.5,465.8 1071.5,464.4 1079.5,460.5 1087.5,450.6 1095.5,437.8 1103.5,420.3 1111.5,407.5 1119.5,404.7 1127.5,405.3 1135.5,408.2 1143.5,413.1 1148.5,420.3 1151.5,427.9 1155.5,435.8 1159.5,443.7 1167.5,459.5 1175.5,474.3 1183.5,486.2 1191.5,487.8 1199.5,490.1 1207.5,491.1 1215.5,492.1 1223.5,492.7 1231.5,492.1 1239.5,492.1 1247.5,491.5 1255.5,487.8" fill="none" stroke="#3cb371" stroke-width="1"/>
</g>
<line x1="1179.0" y1="485.3" x2="1290.8" y2="355.7" stroke="#e8141e" stroke-width="4.2"/>
<path d="M1301.2 343.6 L1296.1 363.0 L1282.8 351.5 Z" fill="#e8141e"/>
<g clip-path="url(#c2)" shape-rendering="crispEdges" fill="#00ff00">
<rect x="-2" y="557" width="3" height="37"/>
<rect x="6" y="554" width="3" height="40"/>
<rect x="14" y="552" width="3" height="42"/>
<rect x="22" y="553" width="3" height="41"/>
<rect x="30" y="549" width="3" height="45"/>
<rect x="38" y="545" width="3" height="49"/>
<rect x="46" y="551" width="3" height="43"/>
<rect x="54" y="556" width="3" height="38"/>
<rect x="62" y="559" width="3" height="35"/>
<rect x="70" y="562" width="3" height="32"/>
<rect x="78" y="563" width="3" height="31"/>
<rect x="86" y="560" width="3" height="34"/>
<rect x="94" y="556" width="3" height="38"/>
<rect x="102" y="553" width="3" height="41"/>
<rect x="110" y="557" width="3" height="37"/>
<rect x="118" y="564" width="3" height="30"/>
<rect x="126" y="569" width="3" height="25"/>
<rect x="134" y="575" width="3" height="19"/>
<rect x="142" y="575" width="3" height="19"/>
<rect x="150" y="578" width="3" height="16"/>
<rect x="158" y="579" width="3" height="15"/>
<rect x="166" y="584" width="3" height="10"/>
<rect x="174" y="588" width="3" height="6"/>
<rect x="182" y="594" width="3" height="2"/>
<rect x="190" y="594" width="3" height="8"/>
<rect x="198" y="594" width="3" height="15"/>
<rect x="206" y="594" width="3" height="9"/>
<rect x="214" y="594" width="3" height="3"/>
<rect x="222" y="591" width="3" height="3"/>
<rect x="230" y="588" width="3" height="6"/>
<rect x="238" y="589" width="3" height="5"/>
<rect x="246" y="588" width="3" height="6"/>
<rect x="254" y="582" width="3" height="12"/>
<rect x="262" y="572" width="3" height="22"/>
<rect x="270" y="564" width="3" height="30"/>
<rect x="278" y="560" width="3" height="34"/>
<rect x="286" y="558" width="3" height="36"/>
<rect x="294" y="558" width="3" height="36"/>
<rect x="302" y="560" width="3" height="34"/>
<rect x="310" y="562" width="3" height="32"/>
<rect x="318" y="561" width="3" height="33"/>
<rect x="326" y="562" width="3" height="32"/>
<rect x="334" y="562" width="3" height="32"/>
<rect x="342" y="566" width="3" height="28"/>
<rect x="350" y="565" width="3" height="29"/>
<rect x="358" y="563" width="3" height="31"/>
<rect x="366" y="563" width="3" height="31"/>
<rect x="374" y="563" width="3" height="31"/>
<rect x="382" y="563" width="3" height="31"/>
<rect x="390" y="563" width="3" height="31"/>
<rect x="398" y="558" width="3" height="36"/>
<rect x="406" y="552" width="3" height="42"/>
<rect x="414" y="549" width="3" height="45"/>
<rect x="422" y="546" width="3" height="48"/>
<rect x="430" y="547" width="3" height="47"/>
<rect x="438" y="547" width="3" height="47"/>
<rect x="446" y="548" width="3" height="46"/>
<rect x="454" y="552" width="3" height="42"/>
<rect x="462" y="553" width="3" height="41"/>
<rect x="470" y="557" width="3" height="37"/>
<rect x="478" y="561" width="3" height="33"/>
<rect x="486" y="560" width="3" height="34"/>
<rect x="494" y="567" width="3" height="27"/>
<rect x="502" y="571" width="3" height="23"/>
<rect x="510" y="575" width="3" height="19"/>
<rect x="518" y="582" width="3" height="12"/>
<rect x="526" y="588" width="3" height="6"/>
<rect x="534" y="592" width="3" height="2"/>
<rect x="542" y="589" width="3" height="5"/>
<rect x="550" y="588" width="3" height="6"/>
<rect x="558" y="587" width="3" height="7"/>
<rect x="566" y="587" width="3" height="7"/>
<rect x="574" y="584" width="3" height="10"/>
<rect x="582" y="583" width="3" height="11"/>
<rect x="590" y="578" width="3" height="16"/>
<rect x="598" y="584" width="3" height="10"/>
<rect x="606" y="588" width="3" height="6"/>
<rect x="614" y="590" width="3" height="4"/>
<rect x="622" y="592" width="3" height="2"/>
<rect x="630" y="594" width="3" height="2"/>
<rect x="638" y="594" width="3" height="6"/>
<rect x="646" y="594" width="3" height="13"/>
<rect x="654" y="594" width="3" height="18"/>
<rect x="662" y="594" width="3" height="20"/>
<rect x="670" y="594" width="3" height="23"/>
<rect x="678" y="594" width="3" height="31"/>
<rect x="686" y="594" width="3" height="32"/>
<rect x="694" y="594" width="3" height="31"/>
<rect x="702" y="594" width="3" height="29"/>
<rect x="710" y="594" width="3" height="28"/>
<rect x="718" y="594" width="3" height="23"/>
<rect x="726" y="594" width="3" height="21"/>
<rect x="734" y="594" width="3" height="33"/>
<rect x="742" y="594" width="3" height="45"/>
<rect x="750" y="594" width="3" height="54"/>
<rect x="758" y="594" width="3" height="61"/>
<rect x="766" y="594" width="3" height="66"/>
<rect x="774" y="594" width="3" height="68"/>
<rect x="782" y="594" width="3" height="68"/>
<rect x="790" y="594" width="3" height="65"/>
<rect x="798" y="594" width="3" height="61"/>
<rect x="806" y="594" width="3" height="55"/>
<rect x="814" y="594" width="3" height="50"/>
<rect x="822" y="594" width="3" height="48"/>
<rect x="830" y="594" width="3" height="46"/>
<rect x="838" y="594" width="3" height="44"/>
<rect x="846" y="594" width="3" height="51"/>
<rect x="854" y="594" width="3" height="60"/>
<rect x="862" y="594" width="3" height="67"/>
<rect x="870" y="594" width="3" height="67"/>
<rect x="878" y="594" width="3" height="67"/>
<rect x="886" y="594" width="3" height="69"/>
<rect x="894" y="594" width="3" height="72"/>
<rect x="902" y="594" width="3" height="70"/>
<rect x="910" y="594" width="3" height="66"/>
<rect x="918" y="594" width="3" height="60"/>
<rect x="926" y="594" width="3" height="60"/>
<rect x="934" y="594" width="3" height="60"/>
<rect x="942" y="594" width="3" height="58"/>
<rect x="950" y="594" width="3" height="56"/>
<rect x="958" y="594" width="3" height="49"/>
<rect x="966" y="594" width="3" height="39"/>
<rect x="974" y="594" width="3" height="31"/>
<rect x="982" y="594" width="3" height="25"/>
<rect x="990" y="594" width="3" height="19"/>
<rect x="998" y="594" width="3" height="12"/>
<rect x="1006" y="594" width="3" height="7"/>
<rect x="1014" y="594" width="3" height="2"/>
<rect x="1022" y="588" width="3" height="6"/>
<rect x="1030" y="591" width="3" height="3"/>
<rect x="1038" y="593" width="3" height="1"/>
<rect x="1046" y="593" width="3" height="1"/>
<rect x="1054" y="593" width="3" height="1"/>
<rect x="1062" y="591" width="3" height="3"/>
<rect x="1070" y="589" width="3" height="5"/>
<rect x="1078" y="590" width="3" height="4"/>
<rect x="1086" y="589" width="3" height="5"/>
<rect x="1094" y="584" width="3" height="10"/>
<rect x="1102" y="583" width="3" height="11"/>
<rect x="1110" y="590" width="3" height="4"/>
<rect x="1118" y="593" width="3" height="1"/>
<rect x="1126" y="594" width="3" height="1"/>
<rect x="1134" y="594" width="3" height="3"/>
<rect x="1142" y="594" width="3" height="7"/>
<rect x="1150" y="594" width="3" height="13"/>
<rect x="1158" y="594" width="3" height="20"/>
<rect x="1166" y="594" width="3" height="26"/>
<rect x="1174" y="594" width="3" height="30"/>
<rect x="1182" y="594" width="3" height="34"/>
<rect x="1190" y="594" width="3" height="28"/>
<rect x="1198" y="594" width="3" height="26"/>
<rect x="1206" y="594" width="3" height="23"/>
<rect x="1214" y="594" width="3" height="20"/>
<rect x="1222" y="594" width="3" height="18"/>
<rect x="1230" y="594" width="3" height="16"/>
<rect x="1238" y="594" width="3" height="11"/>
<rect x="1246" y="594" width="3" height="4"/>
<rect x="1254" y="592" width="3" height="2"/>
</g>
<g clip-path="url(#c2)" shape-rendering="crispEdges">
<polyline points="-0.5,568.8 15.5,564.2 31.5,560.7 47.5,554.3 55.5,553.9 71.5,553.9 79.5,555.2 95.5,556.2 103.5,556.2 111.5,557.4 119.5,559.7 127.5,560.7 135.5,563.0 143.5,565.2 151.5,565.6 159.5,567.5 167.5,571.4 175.5,574.3 183.5,579.2 191.5,583.1 199.5,587.0 207.5,590.3 215.5,592.3 223.5,594.8 231.5,595.2 239.5,595.2 247.5,595.2 255.5,594.8 263.5,591.9 271.5,587.0 279.5,581.6 287.5,577.7 295.5,574.7 303.5,571.3 311.5,567.7 319.5,564.6 327.5,562.3 335.5,562.1 343.5,561.3 351.5,561.3 359.5,562.6 367.5,563.2 383.5,563.2 399.5,563.2 407.5,563.0 415.5,560.7 423.5,558.7 431.5,556.8 439.5,554.8 447.5,552.9 455.5,551.9 463.5,550.9 471.5,550.3 479.5,551.3 487.5,551.9 495.5,555.2 503.5,557.2 511.5,560.3 519.5,564.6 527.5,568.5 535.5,573.8 543.5,576.3 551.5,579.2 559.5,582.2 567.5,584.5 575.5,587.0 583.5,587.0 591.5,587.0 599.5,586.4 607.5,586.4 615.5,586.4 623.5,586.4 631.5,587.4 639.5,588.4 647.5,591.3 655.5,594.8 663.5,598.7 671.5,602.3 679.5,606.2 687.5,610.1 695.5,613.0 703.5,615.9 711.5,619.2 719.5,619.2 727.5,619.6 735.5,621.6 743.5,623.5 751.5,626.6 759.5,630.0 767.5,633.9 775.5,637.8 783.5,642.6 791.5,646.9 799.5,651.8 807.5,654.0 815.5,654.0 823.5,654.0 831.5,651.4 839.5,649.5 847.5,647.5 855.5,646.9 863.5,646.5 871.5,647.5 879.5,648.1 887.5,651.4 895.5,653.4 903.5,656.5 911.5,659.2 919.5,659.2 935.5,659.2 943.5,658.3 951.5,656.9 959.5,654.9 967.5,651.0 975.5,646.9 983.5,642.6 991.5,637.8 999.5,632.9 1007.5,627.0 1015.5,620.2 1023.5,613.4 1031.5,607.5 1039.5,603.6 1047.5,600.7 1055.5,597.8 1063.5,594.8 1071.5,593.9 1079.5,592.9 1087.5,591.9 1095.5,590.9 1103.5,590.3 1111.5,590.0 1119.5,589.0 1127.5,589.4 1135.5,590.5 1143.5,591.5 1151.5,593.9 1159.5,595.4 1167.5,599.7 1175.5,604.6 1183.5,608.5 1191.5,611.8 1199.5,614.7 1207.5,616.7 1215.5,618.3 1223.5,618.3 1231.5,618.3 1239.5,616.9 1247.5,613.8 1255.5,610.4" fill="none" stroke="#ff0000" stroke-width="2" stroke-linejoin="round"/>
</g>
<g shape-rendering="crispEdges" stroke="#000" stroke-width="1" stroke-dasharray="3 3">
<line x1="0" y1="698.5" x2="1593" y2="698.5"/>
<line x1="0" y1="733.5" x2="1593" y2="733.5"/>
<line x1="0" y1="773.5" x2="1593" y2="773.5"/>
</g>
<g clip-path="url(#c3)" shape-rendering="crispEdges">
<polyline points="-0.5,709.4 7.5,709.4 15.5,709.4 23.5,715.1 31.5,708.2 39.5,705.6 47.5,727.9 55.5,727.9 63.5,727.9 71.5,725.6 79.5,725.3 87.5,715.8 95.5,712.0 103.5,715.3 111.5,725.3 119.5,735.0 127.5,735.0 135.5,736.3 143.5,727.4 151.5,732.5 159.5,729.9 167.5,737.1 175.5,737.1 183.5,744.8 191.5,745.3 199.5,748.4 207.5,726.8 215.5,725.3 223.5,724.8 231.5,728.6 239.5,733.2 247.5,729.9 255.5,722.7 263.5,716.3 271.5,715.3 279.5,719.7 287.5,720.4 295.5,722.7 303.5,726.1 311.5,726.1 319.5,722.2 327.5,722.7 335.5,723.5 343.5,729.2 351.5,722.7 359.5,721.0 367.5,722.2 375.5,722.2 383.5,720.4 391.5,717.1 399.5,711.5 407.5,708.9 415.5,710.2 423.5,710.2 431.5,715.8 439.5,715.8 447.5,715.3 455.5,719.7 463.5,720.2 471.5,726.1 479.5,726.1 487.5,716.3 495.5,736.3 503.5,732.0 511.5,733.0 519.5,740.9 527.5,740.9 535.5,740.9 543.5,726.8 551.5,728.6 559.5,729.4 567.5,729.9 575.5,724.0 583.5,726.1 591.5,721.0 599.5,738.1 607.5,736.3 615.5,735.8 623.5,734.5 631.5,737.6 639.5,741.4 647.5,747.1 655.5,747.1 663.5,744.0 671.5,744.0 679.5,754.2 687.5,744.0 695.5,738.4 703.5,738.4 711.5,739.4 719.5,732.0 727.5,733.8 735.5,753.7 743.5,756.0 751.5,756.3 759.5,756.8 767.5,755.5 775.5,753.0 783.5,752.2 791.5,747.1 799.5,742.0 807.5,740.2 815.5,740.2 823.5,744.0 831.5,744.0 839.5,744.0 847.5,757.6 855.5,760.6 863.5,761.2 871.5,749.9 879.5,749.9 887.5,753.7 895.5,755.0 903.5,749.1 911.5,740.9 919.5,743.5 927.5,748.4 935.5,747.8 943.5,747.1 951.5,746.6 959.5,738.4 967.5,729.2 975.5,729.2 983.5,729.2 991.5,729.2 999.5,725.6 1007.5,724.8 1015.5,722.7 1023.5,719.7 1031.5,736.3 1039.5,736.3 1047.5,733.0 1055.5,732.0 1063.5,727.9 1071.5,727.9 1079.5,733.2 1087.5,728.6 1095.5,721.7 1103.5,726.6 1111.5,740.2 1119.5,738.9 1127.5,734.5 1135.5,737.6 1143.5,741.4 1151.5,745.3 1159.5,749.9 1167.5,749.9 1175.5,750.9 1183.5,750.9 1191.5,731.7 1199.5,737.1 1207.5,735.6 1215.5,734.3 1223.5,733.8 1231.5,733.8 1239.5,727.4 1247.5,723.5 1255.5,723.0" fill="none" stroke="#1e90ff" stroke-width="2" stroke-linejoin="round"/>
</g>
<text x="6.6" y="34.0" transform="rotate(0.04 6.6 34.0)" fill="#000" stroke="#000" stroke-width="0.12" text-anchor="start" textLength="189.5" lengthAdjust="spacingAndGlyphs" xml:space="preserve">UKOil-,H4&#160; 113.544 113.772 113.391 113.762</text>
<text x="-3.8" y="551.0" transform="rotate(0.04 -3.8 551.0)" fill="#000" stroke="#000" stroke-width="0.12" text-anchor="start" textLength="129.3" lengthAdjust="spacingAndGlyphs">MACD(12,26,9) 0.0754 -0.4552</text>
<text x="-6" y="686.2" transform="rotate(0.04 -6 686.2)" fill="#000" stroke="#000" stroke-width="0.12" text-anchor="start" textLength="69" lengthAdjust="spacingAndGlyphs">RSI(14) 59.4335</text>
<text x="1599.5" y="42.0" transform="rotate(0.04 1599.5 42.0)" fill="#000" stroke="#000" stroke-width="0.12" text-anchor="start" textLength="32.5" lengthAdjust="spacingAndGlyphs">125.445</text>
<text x="1599.5" y="75.0" transform="rotate(0.04 1599.5 75.0)" fill="#000" stroke="#000" stroke-width="0.12" text-anchor="start" textLength="32.5" lengthAdjust="spacingAndGlyphs">124.185</text>
<text x="1599.5" y="107.0" transform="rotate(0.04 1599.5 107.0)" fill="#000" stroke="#000" stroke-width="0.12" text-anchor="start" textLength="32.5" lengthAdjust="spacingAndGlyphs">122.960</text>
<text x="1599.5" y="140.0" transform="rotate(0.04 1599.5 140.0)" fill="#000" stroke="#000" stroke-width="0.12" text-anchor="start" textLength="32.5" lengthAdjust="spacingAndGlyphs">121.700</text>
<text x="1599.5" y="174.0" transform="rotate(0.04 1599.5 174.0)" fill="#000" stroke="#000" stroke-width="0.12" text-anchor="start" textLength="32.5" lengthAdjust="spacingAndGlyphs">120.440</text>
<text x="1599.5" y="207.0" transform="rotate(0.04 1599.5 207.0)" fill="#000" stroke="#000" stroke-width="0.12" text-anchor="start" textLength="32.5" lengthAdjust="spacingAndGlyphs">119.180</text>
<text x="1599.5" y="240.0" transform="rotate(0.04 1599.5 240.0)" fill="#000" stroke="#000" stroke-width="0.12" text-anchor="start" textLength="32.5" lengthAdjust="spacingAndGlyphs">117.920</text>
<text x="1599.5" y="273.0" transform="rotate(0.04 1599.5 273.0)" fill="#000" stroke="#000" stroke-width="0.12" text-anchor="start" textLength="32.5" lengthAdjust="spacingAndGlyphs">116.660</text>
<text x="1599.5" y="306.0" transform="rotate(0.04 1599.5 306.0)" fill="#000" stroke="#000" stroke-width="0.12" text-anchor="start" textLength="32.5" lengthAdjust="spacingAndGlyphs">115.400</text>
<text x="1599.5" y="339.0" transform="rotate(0.04 1599.5 339.0)" fill="#000" stroke="#000" stroke-width="0.12" text-anchor="start" textLength="32.5" lengthAdjust="spacingAndGlyphs">114.140</text>
<text x="1599.5" y="372.0" transform="rotate(0.04 1599.5 372.0)" fill="#000" stroke="#000" stroke-width="0.12" text-anchor="start" textLength="32.5" lengthAdjust="spacingAndGlyphs">112.880</text>
<text x="1599.5" y="405.0" transform="rotate(0.04 1599.5 405.0)" fill="#000" stroke="#000" stroke-width="0.12" text-anchor="start" textLength="32.5" lengthAdjust="spacingAndGlyphs">111.620</text>
<text x="1599.5" y="439.0" transform="rotate(0.04 1599.5 439.0)" fill="#000" stroke="#000" stroke-width="0.12" text-anchor="start" textLength="32.5" lengthAdjust="spacingAndGlyphs">110.360</text>
<text x="1599.5" y="472.0" transform="rotate(0.04 1599.5 472.0)" fill="#000" stroke="#000" stroke-width="0.12" text-anchor="start" textLength="32.5" lengthAdjust="spacingAndGlyphs">109.100</text>
<text x="1599.5" y="504.0" transform="rotate(0.04 1599.5 504.0)" fill="#000" stroke="#000" stroke-width="0.12" text-anchor="start" textLength="32.5" lengthAdjust="spacingAndGlyphs">107.875</text>
<text x="1599.5" y="537.0" transform="rotate(0.04 1599.5 537.0)" fill="#000" stroke="#000" stroke-width="0.12" text-anchor="start" textLength="32.5" lengthAdjust="spacingAndGlyphs">106.615</text>
<rect x="1595" y="275" width="41" height="11" fill="#ff0000" shape-rendering="crispEdges"/>
<text x="1599.5" y="284.4" transform="rotate(0.04 1599.5 284.4)" fill="#fff" stroke="#fff" stroke-width="0.12" text-anchor="start" textLength="32.5" lengthAdjust="spacingAndGlyphs">116.203</text>
<rect x="1595" y="307" width="41" height="11" fill="#ff0000" shape-rendering="crispEdges"/>
<text x="1599.5" y="316.4" transform="rotate(0.04 1599.5 316.4)" fill="#fff" stroke="#fff" stroke-width="0.12" text-anchor="start" textLength="32.5" lengthAdjust="spacingAndGlyphs">114.987</text>
<rect x="1595" y="356" width="41" height="11" fill="#ff8c00" shape-rendering="crispEdges"/>
<text x="1599.5" y="365.4" transform="rotate(0.04 1599.5 365.4)" fill="#fff" stroke="#fff" stroke-width="0.12" text-anchor="start" textLength="32.5" lengthAdjust="spacingAndGlyphs">113.124</text>
<rect x="1595" y="387" width="41" height="11" fill="#0000ff" shape-rendering="crispEdges"/>
<text x="1599.5" y="396.4" transform="rotate(0.04 1599.5 396.4)" fill="#fff" stroke="#fff" stroke-width="0.12" text-anchor="start" textLength="32.5" lengthAdjust="spacingAndGlyphs">111.946</text>
<rect x="1595" y="417" width="41" height="11" fill="#0000ff" shape-rendering="crispEdges"/>
<text x="1599.5" y="426.4" transform="rotate(0.04 1599.5 426.4)" fill="#fff" stroke="#fff" stroke-width="0.12" text-anchor="start" textLength="32.5" lengthAdjust="spacingAndGlyphs">110.805</text>
<rect x="1595" y="340" width="41" height="11" fill="#000" shape-rendering="crispEdges"/>
<text x="1599.5" y="349.0" transform="rotate(0.04 1599.5 349.0)" fill="#fff" stroke="#fff" stroke-width="0.12" text-anchor="start" textLength="32.5" lengthAdjust="spacingAndGlyphs">113.762</text>
<text x="1597.5" y="549.0" transform="rotate(0.04 1597.5 549.0)" fill="#000" stroke="#000" stroke-width="0.12" text-anchor="start" textLength="27.2" lengthAdjust="spacingAndGlyphs">1.6624</text>
<text x="1597" y="598.0" transform="rotate(0.04 1597 598.0)" fill="#000" stroke="#000" stroke-width="0.12" text-anchor="start" textLength="18" lengthAdjust="spacingAndGlyphs">0.00</text>
<text x="1597" y="668.3" transform="rotate(0.04 1597 668.3)" fill="#000" stroke="#000" stroke-width="0.12" text-anchor="start" textLength="25.7" lengthAdjust="spacingAndGlyphs">-2.318</text>
<text x="1597" y="684.2" transform="rotate(0.04 1597 684.2)" fill="#000" stroke="#000" stroke-width="0.12" text-anchor="start" textLength="15" lengthAdjust="spacingAndGlyphs">100</text>
<text x="1596.5" y="702.2" transform="rotate(0.04 1596.5 702.2)" fill="#000" stroke="#000" stroke-width="0.12" text-anchor="start" textLength="10" lengthAdjust="spacingAndGlyphs">80</text>
<text x="1596.5" y="737.2" transform="rotate(0.04 1596.5 737.2)" fill="#000" stroke="#000" stroke-width="0.12" text-anchor="start" textLength="10" lengthAdjust="spacingAndGlyphs">50</text>
<text x="1596.5" y="777.2" transform="rotate(0.04 1596.5 777.2)" fill="#000" stroke="#000" stroke-width="0.12" text-anchor="start" textLength="10" lengthAdjust="spacingAndGlyphs">15</text>
<text x="1597" y="788.0" transform="rotate(0.04 1597 788.0)" fill="#000" stroke="#000" stroke-width="0.12" text-anchor="start" textLength="5" lengthAdjust="spacingAndGlyphs">0</text>
<text x="-10" y="804" transform="rotate(0.04 -10 804)" fill="#000" stroke="#000" stroke-width="0.12" text-anchor="start" textLength="54.6" lengthAdjust="spacingAndGlyphs">27 May 2022</text>
<text x="54" y="804" transform="rotate(0.04 54 804)" fill="#000" stroke="#000" stroke-width="0.12" text-anchor="start" textLength="57.4" lengthAdjust="spacingAndGlyphs">30 May 04:00</text>
<text x="118" y="804" transform="rotate(0.04 118 804)" fill="#000" stroke="#000" stroke-width="0.12" text-anchor="start" textLength="57.4" lengthAdjust="spacingAndGlyphs">31 May 16:00</text>
<text x="182" y="804" transform="rotate(0.04 182 804)" fill="#000" stroke="#000" stroke-width="0.12" text-anchor="start" textLength="47.6" lengthAdjust="spacingAndGlyphs">2 Jun 00:00</text>
<text x="246" y="804" transform="rotate(0.04 246 804)" fill="#000" stroke="#000" stroke-width="0.12" text-anchor="start" textLength="47.6" lengthAdjust="spacingAndGlyphs">3 Jun 08:00</text>
<text x="310" y="804" transform="rotate(0.04 310 804)" fill="#000" stroke="#000" stroke-width="0.12" text-anchor="start" textLength="47.6" lengthAdjust="spacingAndGlyphs">6 Jun 16:00</text>
<text x="374" y="804" transform="rotate(0.04 374 804)" fill="#000" stroke="#000" stroke-width="0.12" text-anchor="start" textLength="47.6" lengthAdjust="spacingAndGlyphs">8 Jun 00:00</text>
<text x="438" y="804" transform="rotate(0.04 438 804)" fill="#000" stroke="#000" stroke-width="0.12" text-anchor="start" textLength="47.6" lengthAdjust="spacingAndGlyphs">9 Jun 08:00</text>
<text x="502" y="804" transform="rotate(0.04 502 804)" fill="#000" stroke="#000" stroke-width="0.12" text-anchor="start" textLength="53.2" lengthAdjust="spacingAndGlyphs">10 Jun 16:00</text>
<text x="566" y="804" transform="rotate(0.04 566 804)" fill="#000" stroke="#000" stroke-width="0.12" text-anchor="start" textLength="53.2" lengthAdjust="spacingAndGlyphs">14 Jun 00:00</text>
<text x="630" y="804" transform="rotate(0.04 630 804)" fill="#000" stroke="#000" stroke-width="0.12" text-anchor="start" textLength="53.2" lengthAdjust="spacingAndGlyphs">15 Jun 08:00</text>
<text x="694" y="804" transform="rotate(0.04 694 804)" fill="#000" stroke="#000" stroke-width="0.12" text-anchor="start" textLength="53.2" lengthAdjust="spacingAndGlyphs">16 Jun 16:00</text>
<text x="758" y="804" transform="rotate(0.04 758 804)" fill="#000" stroke="#000" stroke-width="0.12" text-anchor="start" textLength="53.2" lengthAdjust="spacingAndGlyphs">20 Jun 00:00</text>
<text x="822" y="804" transform="rotate(0.04 822 804)" fill="#000" stroke="#000" stroke-width="0.12" text-anchor="start" textLength="53.2" lengthAdjust="spacingAndGlyphs">21 Jun 12:00</text>
<text x="886" y="804" transform="rotate(0.04 886 804)" fill="#000" stroke="#000" stroke-width="0.12" text-anchor="start" textLength="53.2" lengthAdjust="spacingAndGlyphs">22 Jun 20:00</text>
<text x="950" y="804" transform="rotate(0.04 950 804)" fill="#000" stroke="#000" stroke-width="0.12" text-anchor="start" textLength="53.2" lengthAdjust="spacingAndGlyphs">24 Jun 04:00</text>
<text x="1014" y="804" transform="rotate(0.04 1014 804)" fill="#000" stroke="#000" stroke-width="0.12" text-anchor="start" textLength="53.2" lengthAdjust="spacingAndGlyphs">27 Jun 12:00</text>
<text x="1078" y="804" transform="rotate(0.04 1078 804)" fill="#000" stroke="#000" stroke-width="0.12" text-anchor="start" textLength="53.2" lengthAdjust="spacingAndGlyphs">29 Jun 00:00</text>
<text x="1142" y="804" transform="rotate(0.04 1142 804)" fill="#000" stroke="#000" stroke-width="0.12" text-anchor="start" textLength="53.2" lengthAdjust="spacingAndGlyphs">30 Jun 08:00</text>
<text x="1206" y="804" transform="rotate(0.04 1206 804)" fill="#000" stroke="#000" stroke-width="0.12" text-anchor="start" textLength="44.2" lengthAdjust="spacingAndGlyphs">1 Jul 16:00</text>
</svg>
<div id="rightedge"></div>
<div id="tb">
<div class="edge1"></div><div class="edge2"></div><div class="edge3"></div>
<!-- new order button (cropped) -->
<div style="position:absolute;left:-30px;top:-8px;width:53px;height:23px;border:1px solid #a8a8a8;box-shadow:inset -1px -1px 0 #fafafa;background:#f2f2f2;"></div>
<div class="cjk" style="left:-18px;top:-3.2px;-webkit-text-stroke:0.3px #000;">新订单</div>
<div class="cjk" style="left:135.5px;top:-1.7px;-webkit-text-stroke:0.3px #000;">自动交易</div>
<!-- separators / grips -->
<div class="sep" style="left:190px"></div><div class="grip" style="left:194px"></div>
<div class="sep" style="left:228px;background:#c8c8c8"></div>
<div class="sep" style="left:285px"></div>
<div class="sep" style="left:375px"></div>
<div class="sep" style="left:408px;background:#c8c8c8"></div>
<div class="sep" style="left:437px"></div>
<div class="sep" style="left:558px"></div><div class="grip" style="left:562px"></div>
<div class="sep" style="left:625px"></div>
<div class="sep" style="left:864px"></div><div class="grip" style="left:868px"></div>
<div class="sep" style="left:1125px"></div>
<!-- selected button backgrounds -->
<div style="position:absolute;left:229px;top:0;width:23px;height:16px;background:#f8f8f8;"></div>
<div style="position:absolute;left:380px;top:0;width:26px;height:16px;background:#f8f8f8;"></div>
<div style="position:absolute;left:569px;top:0;width:24px;height:16px;background:#f8f8f8;border-left:1px solid #b0b0b0;"></div>
<div style="position:absolute;left:1015px;top:0;width:24px;height:15px;background:#f9f9f9;border-left:1px solid #9a9a9a;"></div>
<!-- timeframes -->
<div class="tf" style="left:879px">M1</div>
<div class="tf" style="left:907.5px">M5</div>
<div class="tf" style="left:933px">M15</div>
<div class="tf" style="left:961.5px">M30</div>
<div class="tf" style="left:992.5px">H1</div>
<div class="tf" style="left:1020px">H4</div>
<div class="tf" style="left:1048.5px">D1</div>
<div class="tf" style="left:1076px">W1</div>
<div class="tf" style="left:1102.5px">MN</div>
<svg width="1640" height="20" viewBox="0 0 1640 20" style="position:absolute;left:0;top:0">
<defs>
<linearGradient id="gold" x1="0" y1="0" x2="1" y2="1"><stop offset="0" stop-color="#ffe07a"/><stop offset="1" stop-color="#b87a10"/></linearGradient>
<linearGradient id="blu" x1="0" y1="0" x2="0" y2="1"><stop offset="0" stop-color="#7ab8f0"/><stop offset="1" stop-color="#1c5fc0"/></linearGradient>
<radialGradient id="redb" cx="0.4" cy="0.3" r="0.8"><stop offset="0" stop-color="#f0553a"/><stop offset="1" stop-color="#c81e10"/></radialGradient>
</defs>
<!-- icon1 gold book -->
<path d="M36.500 -2 L47 6.500 L41 13 L31.500 6.500 Z" fill="url(#gold)" stroke="#a86c10" stroke-width="0.8"/>
<path d="M31.500 6.500 L41 13 L41.500 14 L38 13.800 L31.300 8 Z" fill="#9a6a14"/>
<!-- icon2 profile/cloud -->
<rect x="62" y="-2" width="10" height="12" fill="url(#blu)"/>
<rect x="64" y="2" width="6" height="1.4" fill="#e8f2ff"/>
<path d="M60 12.5 a3 3 0 0 1 2 -5 a4 4 0 0 1 7.5 -1 a3.2 3.2 0 0 1 3.5 6 Z" fill="#e4ecf8" stroke="#7f98c0" stroke-width="0.8"/>
<!-- icon3 signal -->
<circle cx="95" cy="6" r="7" fill="none" stroke="#9ab4e0" stroke-width="1.2"/>
<circle cx="95" cy="6" r="4.3" fill="none" stroke="#5f86d0" stroke-width="1.2"/>
<circle cx="95" cy="6" r="1.6" fill="#2a5fc8"/>
<path d="M95 6 L95 13.5 A7.5 7.5 0 0 0 102.500 6 Z" fill="#58b858" fill-opacity="0.55"/><path d="M95.300 6 V13.500" stroke="#28a028" stroke-width="1.500"/>
<!-- icon4 auto trading -->
<ellipse cx="121.5" cy="1.5" rx="7.5" ry="3.5" fill="#4a9ad8"/>
<path d="M114.5 4.5 L129 4.5 L124 13 L119.5 11 Z" fill="#f5d040" stroke="#c8a020" stroke-width="0.6"/>
<circle cx="126.500" cy="9.800" r="4.400" fill="#d42010"/>
<rect x="125" y="8.300" width="3" height="3" fill="#fff"/>
<!-- bar chart icon -->
<g stroke="#444" stroke-width="1.2" fill="none">
<path d="M208.500 0 V13.5 M206 11.5 H219.500"/><path d="M217.500 10 l2 1.5 l-2 1.5" /><path d="M207 1.500 l1.500 -1.500 l1.500 1.500"/>
</g>
<path d="M212.300 8.300 H214.700 V1.800 H217.200" stroke="#18a018" stroke-width="1.4" fill="none"/>
<!-- candle icon -->
<g stroke="#444" stroke-width="1.2" fill="none"><path d="M236.500 0 V13.5 M234 11.5 H248"/><path d="M246 10 l2 1.5 l-2 1.5"/></g>
<rect x="240.500" y="0" width="4" height="8" fill="#20c020" stroke="#108010" stroke-width="0.8"/><path d="M242.5 8 V10" stroke="#108010"/>
<!-- line chart icon -->
<g stroke="#444" stroke-width="1.2" fill="none"><path d="M264.500 0 V13.5 M262 11.5 H276"/><path d="M274 10 l2 1.5 l-2 1.5"/></g>
<path d="M263.500 9 Q269 0 275 8" stroke="#209040" stroke-width="1.2" fill="none"/>
<!-- zoom in -->
<circle cx="300" cy="4" r="5.2" fill="#cfe4fb" stroke="#3f7fd0" stroke-width="1.6"/>
<path d="M297 4 H303 M300 1 V7" stroke="#2060c0" stroke-width="1.6"/>
<path d="M304 8 L309 13" stroke="#c8a020" stroke-width="2.6" stroke-linecap="round"/>
<!-- zoom out -->
<circle cx="328" cy="4" r="5.2" fill="#cfe4fb" stroke="#3f7fd0" stroke-width="1.6"/>
<path d="M325 4 H331" stroke="#2060c0" stroke-width="1.6"/>
<path d="M332 8 L337 13" stroke="#c8a020" stroke-width="2.6" stroke-linecap="round"/>
<!-- tile -->
<rect x="350" y="0" width="7.500" height="6" fill="#58b030"/><rect x="358.500" y="0" width="7.500" height="6" fill="#2860d0"/>
<rect x="350" y="7" width="7.500" height="7" fill="#2860d0"/><rect x="358.500" y="7" width="7.500" height="7" fill="#58b030"/>
<g fill="#fff"><rect x="351.500" y="2" width="4.500" height="1.4"/><rect x="360" y="2" width="4.500" height="1.4"/><rect x="351.500" y="9.500" width="4.500" height="1.4"/><rect x="360" y="9.500" width="4.500" height="1.4"/></g>
<!-- autoscroll -->
<g stroke="#444" stroke-width="1.2" fill="none"><path d="M387.500 0 V13.5 M384 11.5 H399"/><path d="M397 10 l2 1.5 l-2 1.500"/></g>
<path d="M393 2.500 L397.500 5.500 L393 8.500 Z" fill="#30c030" stroke="#108010" stroke-width="0.8"/>
<!-- chart shift -->
<g stroke="#444" stroke-width="1.2" fill="none"><path d="M416.500 0 V13.5 M413 11.5 H428"/><path d="M426 10 l2 1.5 l-2 1.500"/></g>
<path d="M422.500 0 V10" stroke="#2060c0" stroke-width="1.2"/><path d="M428 5.500 H424 M426 3.500 L424 5.500 L426 7.500" stroke="#d03010" stroke-width="1.2" fill="none"/>
<!-- indicators doc + plus -->
<rect x="447.500" y="0" width="9" height="11" fill="#fafafa" stroke="#888" stroke-width="0.9"/>
<path d="M455 5 h4 v-0 M453 7 h3 v-3 h4 v3 h3 v4 h-3 v3.500 h-4 v-3.500 h-3 Z" fill="#28b828" stroke="#108a10" stroke-width="0.7"/>
<path d="M468.500 4.500 h6 l-3 3.500 Z" fill="#000"/>
<!-- clock -->
<circle cx="493" cy="5" r="7" fill="#f4f8ff" stroke="#2060c8" stroke-width="2.4"/>
<path d="M493 1 V5.500 H496.500" stroke="#444" stroke-width="1.1" fill="none"/>
<path d="M507.500 4.500 h6 l-3 3.500 Z" fill="#000"/>
<!-- template chart -->
<rect x="524.500" y="-1" width="15" height="13.500" fill="#f4f8ff" stroke="#3a78d0" stroke-width="1.4"/>
<rect x="524.500" y="-1" width="15" height="3" fill="#3a78d0"/>
<path d="M526 5 l3 -1 l3 0.500 l3 -1.500 l3 -0.500" stroke="#c02810" stroke-width="1.1" fill="none"/>
<path d="M526 10 l3 -1.500 l3 1 l3 -2 l3 1.500" stroke="#18a018" stroke-width="1.1" fill="none"/>
<path d="M546.500 4.500 h6 l-3 3.500 Z" fill="#000"/>
<!-- cursor -->
<path d="M576.500 -1 V10 L579.500 7.500 L582 12.500 L584 11.500 L581.700 7 L585.500 7 Z" fill="#444"/>
<!-- crosshair -->
<path d="M608.500 -1 V13.500 M601 6.500 H616" stroke="#444" stroke-width="1.1"/>
<rect x="607" y="5" width="3" height="3" fill="#f0f0f0"/>
<!-- vline hline trend -->
<path d="M642.500 0 V12.500" stroke="#444" stroke-width="1.1"/>
<path d="M664.500 6.500 H677" stroke="#444" stroke-width="1.1"/>
<path d="M693 13 L705 1" stroke="#444" stroke-width="1.1"/>
<!-- channel E -->
<path d="M720 10 L732 -1 M723 13 L735 2 M721.500 12 L733.500 1" stroke="#444" stroke-width="0.9"/>
<path d="M722 6 l6 3 M725 3 l6 3" stroke="#444" stroke-width="0.8"/>
<text x="730.500" y="15" font-family="Liberation Sans, sans-serif" font-size="6.500" font-weight="bold" fill="#333">E</text>
<!-- fibo F -->
<path d="M748 2.500 H761 M748 6.500 H761 M748 10.500 H761" stroke="#555" stroke-width="1" stroke-dasharray="1 1"/>
<text x="758" y="15" font-family="Liberation Sans, sans-serif" font-size="6.500" font-weight="bold" fill="#333">F</text>
<!-- A -->
<text x="778" y="11.500" font-family="Liberation Sans, sans-serif" font-size="13" fill="#444">A</text>
<!-- T label -->
<rect x="805" y="0.500" width="11" height="12" fill="none" stroke="#666" stroke-width="1" stroke-dasharray="1 1"/>
<text x="806.500" y="11" font-family="Liberation Sans, sans-serif" font-size="12" fill="#444">T</text>
<!-- arrows -->
<path d="M833.500 3 l3 -3 l3 3 l-3 3 Z M840.500 10 l3 -3 l3 3 l-3 3 Z" fill="#444"/>
<path d="M834 7 l3 3 l6 -7" stroke="#444" stroke-width="1.2" fill="none"/>
<path d="M852.500 4.500 h6 l-3 3.500 Z" fill="#000"/>
<!-- search -->
<circle cx="1595.600" cy="3.800" r="3.600" fill="#fdfdff" stroke="#2a5fd0" stroke-width="1.500"/>
<path d="M1593 6.500 L1588 11" stroke="#2a5fd0" stroke-width="2.200" stroke-linecap="round"/>
<!-- chat bubble + badge -->
<path d="M1612.500 8 a6 4.500 0 1 1 6 4.500 l-3.500 2.300 l0.800 -2.800 a6 4.500 0 0 1 -3.300 -4 Z" fill="#e6e9ef" stroke="#b8bcc6" stroke-width="0.800"/>
<circle cx="1626.500" cy="3.700" r="8" fill="url(#redb)"/>
<text x="1623.800" y="8" font-family="Liberation Serif, serif" font-size="11" fill="#fff">1</text>
</svg>
</div>

</body>
</html>
